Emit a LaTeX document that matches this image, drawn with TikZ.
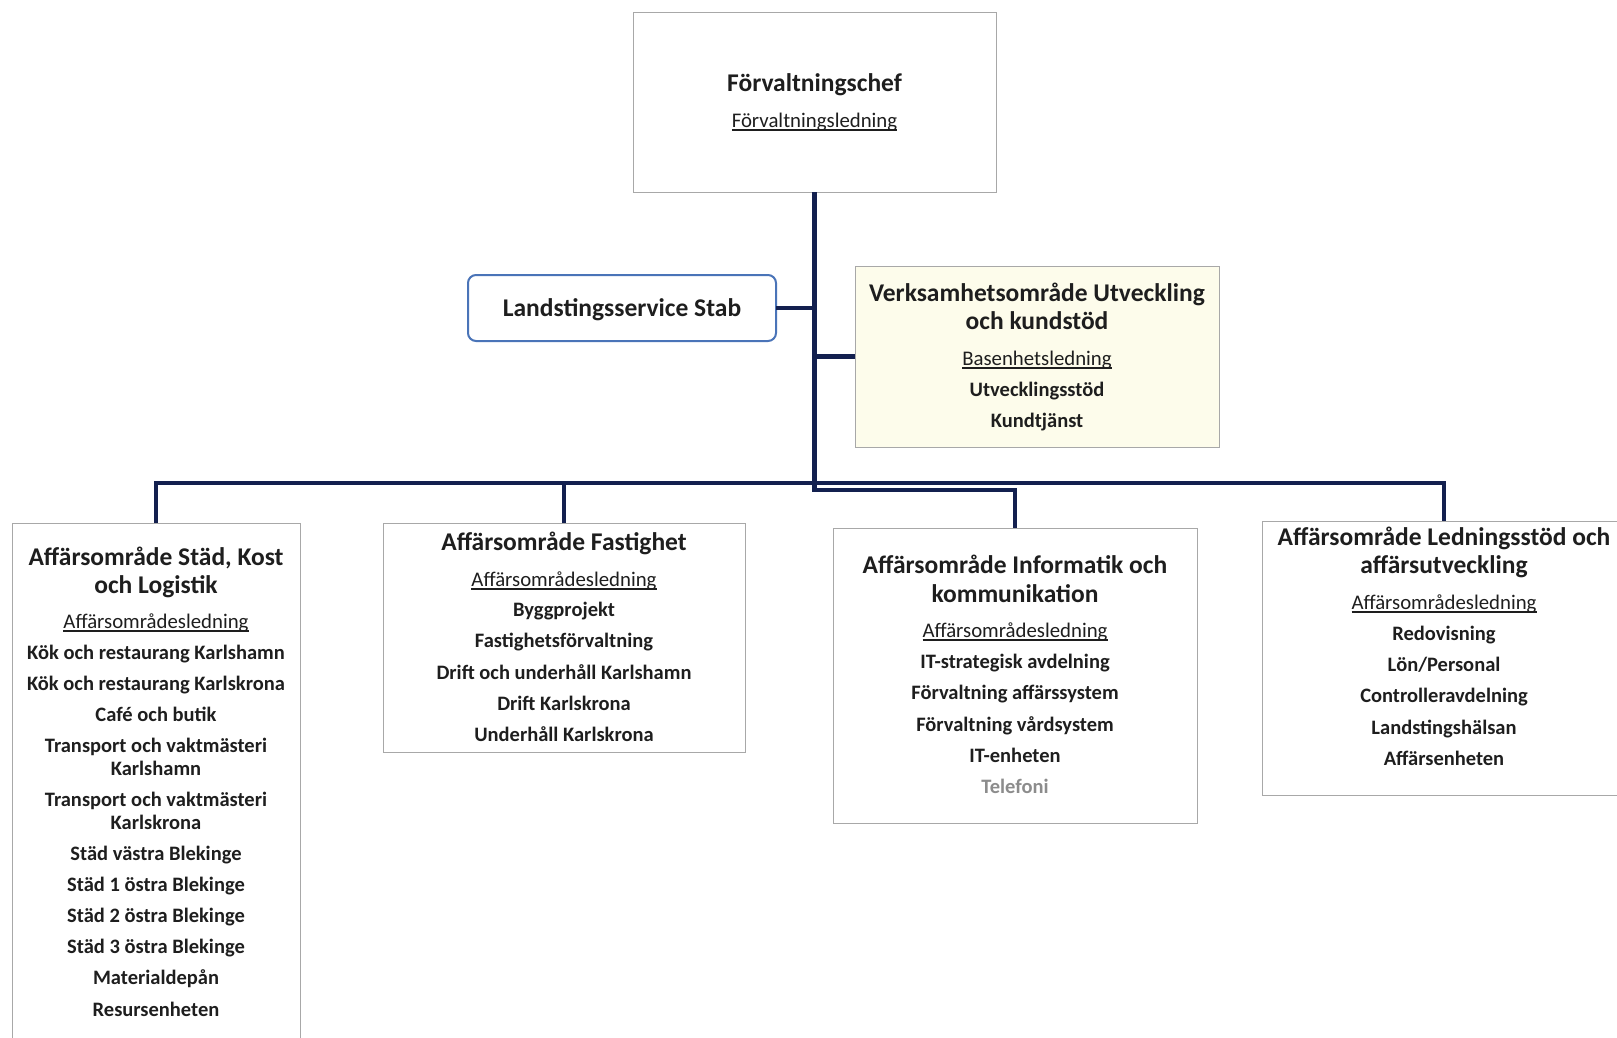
\documentclass[tikz,border=0pt]{standalone}
\usepackage{fontspec}
\setmainfont{Carlito}
\definecolor{linknavy}{HTML}{13204F}
\definecolor{boxgray}{HTML}{A8A8A8}
\definecolor{stabblue}{HTML}{4A74B8}
\definecolor{verkfill}{HTML}{FDFCEB}
\definecolor{textblack}{HTML}{1E1E1E}
\definecolor{telgray}{HTML}{8C8C8C}
\newcommand\titlefont{\fontsize{25.5}{28.5}\selectfont\bfseries}
\newcommand\itemfont{\fontsize{20.5}{23}\selectfont\bfseries}
\newcommand\headfont{\fontsize{20.8}{23}\selectfont}
\newcommand\ledline[1]{\setbox0\hbox{#1}\rlap{\rule[-3.5pt]{\wd0}{1.2pt}}\box0}
\tikzset{
    orgbox/.style={draw=boxgray, line width=0.9pt, fill=white, outer sep=0pt, inner sep=0pt},
    stabbox/.style={draw=stabblue, line width=2pt, rounded corners=8pt, fill=white, outer sep=0pt, inner sep=0pt},
    link/.style={draw=linknavy, line width=4.5pt},
    titletext/.style={font=\titlefont, text=textblack, anchor=base, inner sep=0pt},
    itemtext/.style={font=\itemfont, text=textblack, anchor=base, inner sep=0pt},
    headtext/.style={font=\headfont, text=textblack, anchor=base, inner sep=0pt},
}
\begin{document}
\begin{tikzpicture}[x=1pt, y=-1pt]
    \useasboundingbox (0,0) rectangle (1617,1037);
    \fill[white] (0,0) rectangle (1617,1037);

    \node[orgbox, minimum width=363pt, minimum height=180pt] (chief) at (814.5,102) {};
    \node[titletext] (chief-t) at (chief |- 0,91) {Förvaltningschef};
    \node[headtext] (chief-h) at (chief |- 0,127) {\ledline{Förvaltningsledning}};

    \node[stabbox, minimum width=308pt, minimum height=66pt] (stab) at (622,308) {};
    \node[titletext] (stab-t) at (stab |- 0,316) {Landstingsservice Stab};

    \node[orgbox, fill=verkfill, minimum width=364pt, minimum height=181pt] (verk) at (1037,356.5) {};
    \foreach \y/\txt [count=\i] in {301.5/Verksamhetsområde Utveckling, 329.5/och kundstöd}
        \node[titletext] (verk-t\i) at (verk |- 0,\y) {\txt};
    \node[headtext] (verk-h) at (verk |- 0,365) {\ledline{Basenhetsledning}};
    \foreach \y/\txt [count=\i] in {396/Utvecklingsstöd, 427/Kundtjänst}
        \node[itemtext] (verk-\i) at (verk |- 0,\y) {\txt};

    \node[orgbox, minimum width=288pt, minimum height=522pt] (stad) at (156,784) {};
    \foreach \y/\txt [count=\i] in {565.5/{Affärsområde Städ, Kost}, 593.5/och Logistik}
        \node[titletext] (stad-t\i) at (stad |- 0,\y) {\txt};
    \node[headtext] (stad-h) at (stad |- 0,628) {\ledline{Affärsområdesledning}};
    \foreach \y/\txt [count=\i] in {659/Kök och restaurang Karlshamn, 690/Kök och restaurang Karlskrona,
            721/Café och butik, 752/Transport och vaktmästeri, 775/Karlshamn,
            806/Transport och vaktmästeri, 829/Karlskrona, 860/Städ västra Blekinge,
            891/Städ 1 östra Blekinge, 922/Städ 2 östra Blekinge, 953/Städ 3 östra Blekinge,
            984/Materialdepån, 1016/Resursenheten}
        \node[itemtext] (stad-\i) at (stad |- 0,\y) {\txt};

    \node[orgbox, minimum width=362pt, minimum height=229pt] (fast) at (564,637.5) {};
    \node[titletext] (fast-t1) at (fast |- 0,550.5) {Affärsområde Fastighet};
    \node[headtext] (fast-h) at (fast |- 0,586) {\ledline{Affärsområdesledning}};
    \foreach \y/\txt [count=\i] in {616/Byggprojekt, 647/Fastighetsförvaltning,
            679/Drift och underhåll Karlshamn, 710/Drift Karlskrona, 741/Underhåll Karlskrona}
        \node[itemtext] (fast-\i) at (fast |- 0,\y) {\txt};

    \node[orgbox, minimum width=364pt, minimum height=295pt] (info) at (1015,675.5) {};
    \foreach \y/\txt [count=\i] in {573.5/Affärsområde Informatik och, 602.5/kommunikation}
        \node[titletext] (info-t\i) at (info |- 0,\y) {\txt};
    \node[headtext] (info-h) at (info |- 0,637) {\ledline{Affärsområdesledning}};
    \foreach \y/\txt [count=\i] in {668/IT-strategisk avdelning, 699/Förvaltning affärssystem,
            731/Förvaltning vårdsystem, 762/IT-enheten, 793/{\color{telgray}Telefoni}}
        \node[itemtext] (info-\i) at (info |- 0,\y) {\txt};

    \node[orgbox, minimum width=364pt, minimum height=274pt] (led) at (1444,658) {};
    \foreach \y/\txt [count=\i] in {545.5/Affärsområde Ledningsstöd och, 573.5/affärsutveckling}
        \node[titletext] (led-t\i) at (led |- 0,\y) {\txt};
    \node[headtext] (led-h) at (led |- 0,609) {\ledline{Affärsområdesledning}};
    \foreach \y/\txt [count=\i] in {640/Redovisning, 671/{Lön/Personal}, 702/Controlleravdelning,
            734/Landstingshälsan, 765/Affärsenheten}
        \node[itemtext] (led-\i) at (led |- 0,\y) {\txt};

    \coordinate (hub) at (chief.south |- 0,490);
    \coordinate (bus) at (chief.south |- 0,483);
    \draw[link] (chief.south) -- (hub) -| (info.north);
    \draw[link] (stab.east) -- (stab.east -| chief.south);
    \draw[link] (verk.west) -- (verk.west -| chief.south);
    \draw[link] (stad.north) |- (led.north |- bus) -- (led.north);
    \draw[link] (fast.north) -- (fast.north |- bus);
\end{tikzpicture}
\end{document}
